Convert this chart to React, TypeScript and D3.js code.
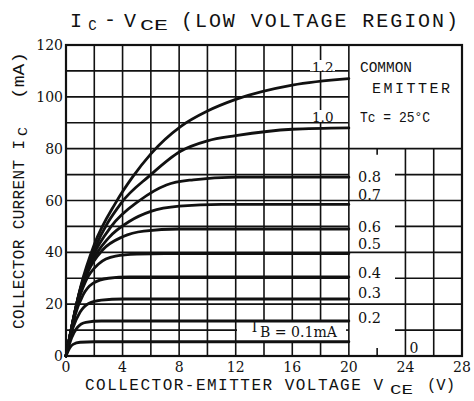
import React from 'react';
import * as d3 from 'd3';

const W = 474;
const H = 401;

// axis ticks
const vceTicks = [0, 4, 8, 12, 16, 20, 24, 28];
const icTicks = [0, 20, 40, 60, 80, 100, 120];

// base-current curve labels
const ibLabels = ['0.1', '0.2', '0.3', '0.4', '0.5', '0.6', '0.7', '0.8', '1.0', '1.2'];

// IC (mA) vs VCE (V) per base current
const ib01: [number, number][] = [[0, 0], [0.25, 3], [0.5, 4.5], [1, 5.3], [2, 5.5], [20, 5.5]];
const ib02: [number, number][] = [[0, 0], [0.4, 7], [0.8, 11], [1.4, 13], [2.5, 13.5], [20, 13.5]];
const ib03: [number, number][] = [[0, 0], [0.5, 11], [1, 17], [1.6, 20.3], [2.5, 21.6], [4, 22], [20, 22]];
const ib04: [number, number][] = [[0, 0], [0.6, 15], [1.2, 23.5], [1.9, 28], [3, 30], [4.5, 30.5], [20, 30.5]];
const ib05: [number, number][] = [[0, 0], [0.7, 18], [1.4, 29], [2.3, 35.5], [3.5, 38.5], [5, 39.3], [7, 39.5], [20, 39.5]];
const ib06: [number, number][] = [[0, 0], [0.8, 20.5], [1.6, 33], [2.6, 41], [4, 46], [5.5, 48.2], [8, 49], [20, 49]];
const ib07: [number, number][] = [[0, 0], [0.85, 22], [1.8, 36], [3, 45.5], [4.5, 52], [6, 55.8], [8, 57.8], [11, 58.5], [20, 58.5]];
const ib08: [number, number][] = [[0, 0], [0.9, 23.5], [1.9, 38.5], [3.2, 50], [5.2, 60], [7.1, 66], [9, 68], [12, 69], [20, 69]];
const ib10: [number, number][] = [[0, 0], [1, 25.5], [2, 41], [3.9, 59], [5.9, 69.5], [8.1, 79], [10, 83], [12, 85], [16, 87.5], [20, 88]];
const ib12: [number, number][] = [[0, 0], [1.05, 27], [2, 43], [3.5, 59], [4.7, 69], [6, 78], [8.1, 88.5], [10, 94.5], [12, 99], [16, 104.5], [20, 107]];

const curves = [ib01, ib02, ib03, ib04, ib05, ib06, ib07, ib08, ib10, ib12];

const x = d3.scaleLinear().domain([0, 28]).range([66, 462]);
const y = d3.scaleLinear().domain([0, 120]).range([356, 45]);

const line = d3
  .line<[number, number]>()
  .x((d) => x(d[0]))
  .y((d) => y(d[1]))
  .curve(d3.curveMonotoneX);

const INK = '#111';
const MONO = "'Liberation Mono', 'DejaVu Sans Mono', monospace";
const SERIF = "'DejaVu Serif', 'Liberation Serif', serif";

// layout for the curve labels (screen positions)
const labelPos: Record<string, [number, number, number]> = {
  '1.2': [312, 72, 13.5],
  '1.0': [312, 122, 13.5],
  '0.8': [358, 182, 14.5],
  '0.7': [358, 200, 14.5],
  '0.6': [358, 232, 14.5],
  '0.5': [358, 249, 14.5],
  '0.4': [358, 278, 14.5],
  '0.3': [358, 298, 14.5],
  '0.2': [358, 323, 14.5],
};

function vSegments(v: number): [number, number][] {
  if (v === 22) return [[y(80), y(80) + 6], [y(0) - 8, y(0)]];
  if (v > 20) return [[y(80), y(0)]];
  if (v >= 14 && v <= 18) return [[y(120), 321], [341, y(0)]];
  return [[y(120), y(0)]];
}

function hSegments(i: number): [number, number][] {
  if (i >= 90) return [[x(0), x(20)]];
  if (i === 10) return [[x(0), 237], [346, x(20)], [395, x(28)]];
  if (i === 30 || i === 50 || i === 70) return [[x(0), x(20)], [395, x(28)]];
  return [[x(0), x(28)]];
}

export default function App() {
  const vGrid = d3.range(2, 28, 2);
  const hGrid = d3.range(10, 120, 10);
  return (
    <svg
      width={W}
      height={H}
      viewBox={`0 0 ${W} ${H}`}
      style={{ position: 'absolute', left: 0, top: 0, background: '#fff' }}
    >
      <rect x={0} y={0} width={W} height={H} fill="#fff" />
      {/* title */}
      <g fill={INK} fontFamily={MONO}>
        <text x={76} y={27} fontSize={20} textAnchor="middle">I</text>
        <text x={92.5} y={29.5} fontSize={14} textAnchor="middle">C</text>
        <text x={110} y={26} fontSize={20} textAnchor="middle">-</text>
        <text x={130} y={27} fontSize={20} textAnchor="middle">V</text>
        <text x={140} y={30} fontSize={14} textLength={28} lengthAdjust="spacingAndGlyphs">CE</text>
        <text x={181} y={27} fontSize={20} textLength={277} lengthAdjust="spacing">(LOW VOLTAGE REGION)</text>
      </g>

      {/* grid */}
      <g stroke={INK} strokeWidth={1.6}>
        {vGrid.map((v) =>
          vSegments(v).map(([a, b], k) => (
            <line key={`v${v}-${k}`} x1={x(v)} x2={x(v)} y1={a} y2={b} />
          ))
        )}
        {hGrid.map((i) =>
          hSegments(i).map(([a, b], k) => (
            <line key={`h${i}-${k}`} x1={a} x2={b} y1={y(i)} y2={y(i)} />
          ))
        )}
      </g>
      <rect x={x(0)} y={y(120)} width={x(28) - x(0)} height={y(0) - y(120)} fill="none" stroke={INK} strokeWidth={2.2} />

      {/* white patches behind the upper curve labels */}
      <rect x={310} y={60} width={25} height={11} fill="#fff" />
      <rect x={310} y={110} width={25} height={12} fill="#fff" />

      {/* curves */}
      <g fill="none" stroke={INK} strokeWidth={2.8} strokeLinecap="round">
        {curves.map((c, i) => (
          <path key={ibLabels[i]} d={line(c) || ''} />
        ))}
      </g>

      {/* curve labels */}
      <g fill={INK} fontFamily={SERIF}>
        {ibLabels.filter((l) => labelPos[l]).map((l) => {
          const [lx, ly, fs] = labelPos[l];
          return (
            <text key={l} x={lx} y={ly} fontSize={fs}>{l}</text>
          );
        })}
        <text x={254.5} y={332} fontSize={14} textAnchor="middle">I</text>
        <text x={260} y={337} fontSize={14} textLength={77} lengthAdjust="spacingAndGlyphs">B = 0.1mA</text>
        <text x={414} y={353} fontSize={14} textAnchor="middle">0</text>
      </g>

      {/* legend box text */}
      <g fill={INK} fontFamily={MONO} fontSize={15}>
        <text x={360} y={72} textLength={52} lengthAdjust="spacingAndGlyphs">COMMON</text>
        <text x={372} y={93} textLength={78} lengthAdjust="spacing">EMITTER</text>
        <text x={360} y={122} textLength={70} lengthAdjust="spacingAndGlyphs">Tc = 25°C</text>
      </g>

      {/* tick labels */}
      <g fill={INK} fontFamily={SERIF} fontSize={14}>
        {vceTicks.map((v) => (
          <text key={`xt${v}`} x={x(v)} y={372} textAnchor="middle">{v}</text>
        ))}
        {icTicks.map((v) => (
          <text key={`yt${v}`} x={63} y={y(v)} dy="0.36em" textAnchor="end">{v}</text>
        ))}
      </g>

      {/* axis titles */}
      <g fill={INK} fontFamily={MONO}>
        <text x={85} y={390} fontSize={16} textLength={298} lengthAdjust="spacing">COLLECTOR-EMITTER VOLTAGE V</text>
        <text x={390} y={394} fontSize={13} textLength={23} lengthAdjust="spacingAndGlyphs">CE</text>
        <text x={427} y={390} fontSize={16} textLength={28} lengthAdjust="spacingAndGlyphs">(V)</text>
        <g transform="translate(24,0) rotate(-90)">
          <text x={-329} y={0} fontSize={16} textLength={189} lengthAdjust="spacing">COLLECTOR CURRENT I</text>
          <text x={-136} y={3} fontSize={12} textLength={9} lengthAdjust="spacingAndGlyphs">C</text>
          <text x={-99} y={0} fontSize={16} textLength={47} lengthAdjust="spacingAndGlyphs">(mA)</text>
        </g>
      </g>
    </svg>
  );
}
